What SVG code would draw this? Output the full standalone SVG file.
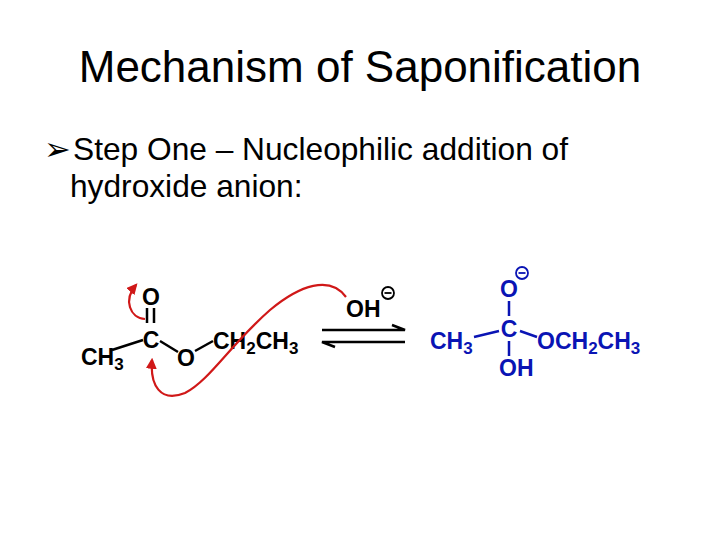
<svg xmlns="http://www.w3.org/2000/svg" width="720" height="540" viewBox="0 0 720 540">
<style>
text{font-family:"Liberation Sans",Arial,sans-serif}
.t{font-size:44px}
.b{font-size:31.7px}
.k{font-size:23px;font-weight:bold}
.s{font-size:17px;font-weight:bold}
.bl{fill:#0a14b4}
.bd{stroke:#000;stroke-width:2.5;fill:none}
.bb{stroke:#0a14b4;stroke-width:2.5;fill:none}
.r{stroke:#d01818;stroke-width:2.2;fill:none}
</style>
<defs>
<marker id="ra" viewBox="0 0 10 10" refX="8" refY="5" markerWidth="5" markerHeight="5" orient="auto"><path d="M0,0L10,5L0,10z" fill="#d01818"/></marker>
</defs>
<rect width="720" height="540" fill="#fff"/>
<text class="t" x="360" y="82" text-anchor="middle">Mechanism of Saponification</text>
<text class="b" x="44" y="160" font-family="DejaVu Sans">➢</text>
<text class="b" x="73" y="160">Step One – Nucleophilic addition of</text>
<text class="b" x="70" y="197">hydroxide anion:</text>
<g id="ester">
<text class="k" x="151" y="305" text-anchor="middle">O</text>
<path class="bd" d="M147,308V323M154,308V323"/>
<text class="k" x="151" y="348" text-anchor="middle">C</text>
<text class="k" x="81" y="365">CH<tspan class="s" dy="5">3</tspan></text>
<path class="bd" d="M112,350L143,340M160,341L178,352M195,351L213,341"/>
<text class="k" x="186" y="366" text-anchor="middle">O</text>
<text class="k" x="213" y="349">CH<tspan class="s" dy="5">2</tspan><tspan dy="-5">CH</tspan><tspan class="s" dy="5">3</tspan></text>
</g>
<g id="hydroxide">
<text class="k" x="346" y="317">OH</text>
<circle cx="388" cy="293" r="6" fill="none" stroke="#000" stroke-width="1.8"/>
<path d="M384.5,293H391.5" stroke="#000" stroke-width="1.8"/>
</g>
<g id="intermediate">
<text class="k bl" x="509" y="297" text-anchor="middle">O</text>
<circle cx="522" cy="273" r="6" fill="none" stroke="#0a14b4" stroke-width="1.8"/>
<path d="M518.5,273H525.5" stroke="#0a14b4" stroke-width="1.8"/>
<path class="bb" d="M509,301V316M509,341V356M474,337L499,331M520,331L537,337"/>
<text class="k bl" x="509" y="337" text-anchor="middle">C</text>
<text class="k bl" x="430" y="349">CH<tspan class="s" dy="5">3</tspan></text>
<text class="k bl" x="537" y="349">OCH<tspan class="s" dy="5">2</tspan><tspan dy="-5">CH</tspan><tspan class="s" dy="5">3</tspan></text>
<text class="k bl" x="499" y="376">OH</text>
</g>
<g id="connectors">
<path d="M322,330H405L392,325" stroke="#000" stroke-width="2.5" fill="none"/>
<path d="M405,342H322L335,347" stroke="#000" stroke-width="2.5" fill="none"/>
<path class="r" d="M145,319C130,318 123,300 136,285" marker-end="url(#ra)"/>
<path class="r" d="M346,297C330,275 300,285 270,310C230,345 210,380 185,393C160,403 150,385 152,360" marker-end="url(#ra)"/>
</g>
</svg>
